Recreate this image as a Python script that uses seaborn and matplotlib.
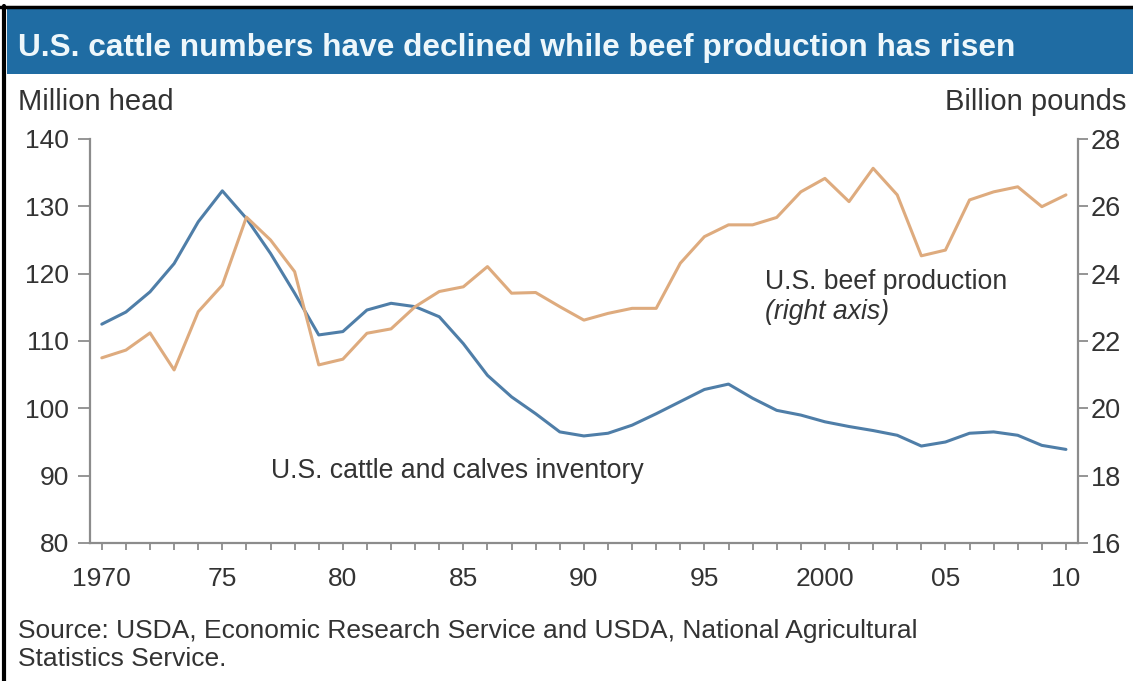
import matplotlib
matplotlib.use("Agg")
import matplotlib.pyplot as plt
from matplotlib.patches import Rectangle
from matplotlib.lines import Line2D
import seaborn as sns
import pandas as pd
import numpy as np

years = list(range(1970, 2011))
cattle = [112.5, 114.3, 117.3, 121.5, 127.7, 132.3, 128.2, 123.0, 117.1, 110.9,
          111.4, 114.6, 115.6, 115.1, 113.6, 109.6, 104.9, 101.7, 99.2, 96.5,
          95.9, 96.3, 97.5, 99.2, 101.0, 102.8, 103.6, 101.5, 99.7, 99.0,
          98.0, 97.3, 96.7, 96.0, 94.4, 95.0, 96.3, 96.5, 96.0, 94.5, 93.9]
beef = [21.5, 21.73, 22.24, 21.14, 22.87, 23.66, 25.68, 25.0, 24.06, 21.29,
        21.46, 22.23, 22.36, 23.02, 23.47, 23.61, 24.21, 23.42, 23.44, 23.02,
        22.62, 22.82, 22.97, 22.97, 24.31, 25.10, 25.45, 25.45, 25.67, 26.43,
        26.83, 26.14, 27.13, 26.34, 24.53, 24.70, 26.19, 26.43, 26.58, 25.99, 26.34]
xtick_years = [1970, 1975, 1980, 1985, 1990, 1995, 2000, 2005, 2010]
xtick_labels = ["1970", "75", "80", "85", "90", "95", "2000", "05", "10"]
left_ticks = [80, 90, 100, 110, 120, 130, 140]
right_ticks = [16, 18, 20, 22, 24, 26, 28]

title = "U.S. cattle numbers have declined while beef production has risen"
left_unit = "Million head"
right_unit = "Billion pounds"
cattle_label = "U.S. cattle and calves inventory"
beef_label = "U.S. beef production"
beef_sub = "(right axis)"
source = "Source: USDA, Economic Research Service and USDA, National Agricultural\nStatistics Service."

sns.set_style("white")
plt.rcParams['font.family'] = ['Liberation Sans', 'DejaVu Sans']

df = pd.DataFrame({"year": years, "cattle": cattle, "beef": beef})

W, H = 1133, 681
fig = plt.figure(figsize=(W / 100, H / 100), dpi=100)
fig.patch.set_facecolor("white")

def fx(px):
    return px / W

def fy(py):
    return 1 - py / H

# banner
fig.add_artist(Rectangle((fx(7), fy(74)), 1 - fx(7), fy(8) - fy(74),
                         transform=fig.transFigure, facecolor="#1f6ca3",
                         edgecolor="none", zorder=0))
# screenshot border lines
fig.add_artist(Line2D([fx(0), 1], [fy(6.5), fy(6.5)], transform=fig.transFigure,
                      color="black", lw=2.5))
fig.add_artist(Line2D([fx(4), fx(4)], [0, fy(6)], transform=fig.transFigure,
                      color="black", lw=3))

fig.text(fx(18), fy(48), title, color="#eef7fb", fontsize=22.8, fontweight="bold",
         va="center", ha="left")
txt_color = "#333333"
fig.text(fx(18), fy(102), left_unit, color=txt_color, fontsize=21, va="center", ha="left")
fig.text(fx(1126), fy(102), right_unit, color=txt_color, fontsize=21, va="center", ha="right")
fig.text(fx(18), fy(631), source.split("\n")[0], color=txt_color, fontsize=19,
         va="center", ha="left")
fig.text(fx(18), fy(659), source.split("\n")[1], color=txt_color, fontsize=19,
         va="center", ha="left")

left, right, top, bottom = 90, 1078, 139, 543
ax = fig.add_axes([fx(left), fy(bottom), fx(right) - fx(left), fy(top) - fy(bottom)])
ax2 = ax.twinx()

blue = "#4f7ea8"
tan = "#deab7e"
sns.lineplot(data=df, x="year", y="cattle", ax=ax, color=blue, lw=2.2)
sns.lineplot(data=df, x="year", y="beef", ax=ax2, color=tan, lw=2.2)

ax.set_xlim(1969.51, 2010.5)
ax.set_ylim(80, 140)
ax2.set_ylim(16, 28)
ax.set_xlabel("")
ax.set_ylabel("")
ax2.set_ylabel("")

spine_c = "#8c8c8c"
for a in (ax, ax2):
    for s in a.spines.values():
        s.set_visible(False)
ax.spines["left"].set_visible(True)
ax.spines["bottom"].set_visible(True)
ax2.spines["right"].set_visible(True)
for s in (ax.spines["left"], ax.spines["bottom"], ax2.spines["right"]):
    s.set_color(spine_c)
    s.set_linewidth(1.6)

ax.set_yticks(left_ticks)
ax.set_yticklabels([str(v) for v in left_ticks])
ax2.set_yticks(right_ticks)
ax2.set_yticklabels([str(v) for v in right_ticks])
ax.set_xticks(xtick_years)
ax.set_xticklabels(xtick_labels)
ax.set_xticks(years, minor=True)

ax.tick_params(axis="y", which="major", direction="out", length=9, width=1.3,
               color=spine_c, labelsize=19, labelcolor=txt_color, pad=6, left=True)
ax2.tick_params(axis="y", which="major", direction="out", length=7, width=1.3,
                color=spine_c, labelsize=19.5, labelcolor=txt_color, pad=2, right=True)
ax.tick_params(axis="x", which="both", direction="out", length=5, width=1.3,
               color=spine_c, labelsize=19, labelcolor=txt_color, pad=12, bottom=True)

ax.text(1977.0, 90.7, cattle_label, color=txt_color, fontsize=19.2, va="center", ha="left")
ax.text(1997.5, 118.8, beef_label, color=txt_color, fontsize=19.2, va="center", ha="left")
ax.text(1997.5, 114.3, beef_sub, color=txt_color, fontsize=19.2, va="center", ha="left",
        style="italic")

fig.savefig("out.png", dpi=100, facecolor="white")
